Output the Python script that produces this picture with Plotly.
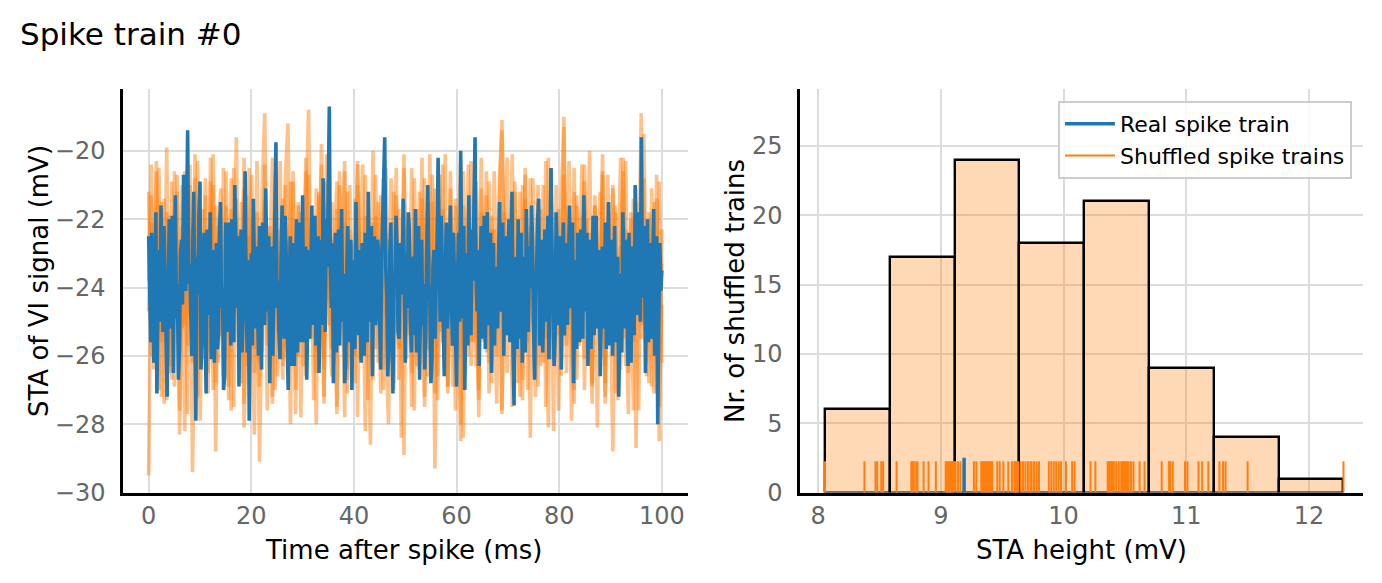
import numpy as np
import plotly.graph_objects as go

# ---------------- data ----------------
# STA of the real spike train (mV), evenly sampled from 0 to 100 ms
real_sta = [
    -22.5, -24.1, -25.6, -22.4, -23.1, -26.2, -24.8, -21.8, -27.1, -24.6,
    -22.9, -25.0, -21.6, -23.8, -25.3, -22.2, -23.7, -25.1, -27.2, -24.3,
    -22.0, -25.2, -24.4, -21.9, -26.5, -23.4, -21.3, -24.9, -23.9, -26.7,
    -25.8, -23.0, -22.6, -24.5, -20.7, -22.8, -24.1, -21.7, -19.4, -23.9,
    -23.3, -24.7, -26.0, -22.6, -21.2, -25.3, -27.9, -23.1, -24.2, -21.8,
    -20.9, -26.4, -25.1, -23.6, -22.4, -25.5, -27.1, -22.3, -23.6, -24.8,
    -21.8, -26.1, -24.9, -22.9, -26.2, -23.7, -22.7, -25.8, -25.4, -22.4,
    -21.5, -24.6, -24.0, -27.0, -26.6, -22.1, -23.2, -25.3, -22.1, -24.0,
    -25.7, -22.0, -23.4, -25.6, -21.0, -23.8, -24.6, -22.5, -26.9, -24.3,
    -22.3, -25.9, -24.8, -22.7, -20.6, -24.1, -25.9, -23.2, -27.9, -24.5,
    -23.0, -25.7, -21.4, -23.6, -25.2, -22.8, -24.1, -26.0, -22.2, -24.4,
    -26.4, -22.1, -23.5, -25.1, -21.1, -23.3, -24.7, -22.5, -26.8, -24.2,
    -22.8, -26.0, -24.3, -22.2, -19.75, -24.6, -23.8, -25.4, -26.1, -23.2,
    -21.6, -24.9, -25.5, -21.9, -23.1, -25.8, -27.0, -24.0, -22.5, -26.3,
    -24.5, -22.7, -26.3, -23.5, -22.0, -25.9, -23.9, -22.1, -25.6, -24.0,
    -21.3, -25.6, -24.2, -22.8, -26.7, -24.3, -22.9, -25.5, -23.7, -21.6,
    -25.1, -23.3, -21.9, -25.7, -24.4, -22.5, -26.5, -24.0, -22.6, -25.1,
    -20.8, -23.6, -25.3, -22.0, -23.4, -21.2, -18.7, -23.4, -24.6, -22.7,
    -26.8, -24.3, -22.4, -25.9, -24.0, -22.3, -25.7, -23.4, -21.7, -25.0,
    -23.6, -26.8, -26.2, -23.5, -22.2, -25.6, -24.9, -22.6, -27.0, -24.4,
    -23.2, -25.8, -21.5, -23.7, -25.4, -22.9, -24.1, -26.2, -22.7, -24.5,
    -26.0, -22.4, -23.3, -25.6, -21.2, -23.8, -25.0, -22.2, -26.6, -24.0,
    -22.5, -25.1, -24.7, -22.6, -23.0, -24.9, -26.4, -23.3, -21.9, -21.6,
    -19.6, -23.4, -24.3, -26.6, -25.8, -23.0, -22.1, -24.9, -27.1, -23.6,
    -24.0, -21.9, -22.8, -25.3, -25.5, -22.7, -23.5, -24.2, -21.4, -25.6,
    -26.2, -23.0, -24.6, -21.8, -22.3, -24.9, -25.9, -23.3, -23.1, -25.4,
    -21.7, -25.9, -24.8, -22.2, -26.7, -23.8, -22.6, -25.1, -23.9, -26.4,
    -25.3, -22.7, -21.0, -23.9, -24.4, -26.8, -26.1, -23.4, -22.9, -25.5,
    -24.2, -22.6, -20.2, -23.8, -25.0, -21.9, -23.3, -25.6, -26.6, -23.5,
    -22.1, -25.2, -24.5, -23.0, -21.6, -24.3, -25.7, -22.4, -23.7, -25.9,
    -26.9, -23.7, -22.4, -25.0, -20.0, -23.3, -24.9, -22.2, -27.0, -24.5,
    -23.0, -25.7, -21.3, -24.2, -25.4, -22.3, -23.8, -21.5, -19.6, -23.6,
    -24.7, -22.9, -26.3, -23.7, -22.2, -25.5, -23.6, -21.9, -25.8, -23.2,
    -21.8, -25.1, -24.1, -22.4, -26.5, -23.9, -22.7, -25.7, -23.4, -24.8,
    -25.2, -23.0, -21.5, -24.7, -24.6, -22.1, -26.0, -23.6, -22.5, -25.4,
    -23.9, -22.0, -25.6, -23.4, -21.2, -25.9, -27.45, -23.1, -24.3, -25.8,
    -22.0, -25.5, -24.8, -22.4, -26.2, -23.7, -23.1, -25.9, -21.7, -24.4,
    -25.3, -22.8, -24.0, -21.6, -22.6, -25.0, -26.7, -24.1, -23.5, -22.0,
    -21.4, -25.7, -24.5, -22.6, -25.9, -23.4, -22.3, -25.0, -23.8, -21.9,
    -26.1, -23.5, -20.5, -23.0, -24.2, -26.3, -25.5, -21.8, -22.8, -25.1,
    -24.9, -22.5, -26.4, -23.8, -22.1, -25.4, -23.6, -22.7, -25.1, -23.3,
    -21.6, -24.6, -24.4, -22.1, -26.8, -24.5, -23.2, -25.8, -22.4, -24.7,
    -25.6, -22.3, -23.7, -25.5, -21.3, -23.9, -24.7, -22.4, -26.3, -24.1,
    -22.6, -25.8, -23.9, -21.9, -25.4, -23.3, -21.9, -25.2, -24.1, -22.9,
    -26.6, -23.8, -22.8, -25.2, -24.3, -22.1, -25.8, -23.5, -21.5, -25.7,
    -23.4, -22.6, -26.0, -23.4, -22.2, -25.6, -24.6, -23.1, -27.2, -24.2,
    -23.6, -25.9, -21.8, -23.2, -25.2, -22.6, -24.0, -26.3, -22.4, -24.5,
    -26.2, -22.8, -23.1, -25.4, -21.0, -23.9, -24.8, -21.8, -22.6, -25.0,
    -19.6, -23.5, -24.3, -22.2, -26.5, -24.1, -22.0, -25.6, -23.7, -22.7,
    -25.5, -23.9, -21.7, -26.0, -24.9, -22.5, -28.0, -25.0, -22.7, -24.1,
    -23.5,
]

# STAs of a few shuffled spike trains (mV), evenly sampled from 0 to 100 ms
shuffled_sta_a = [
    -29.5, -22.1, -25.8, -20.6, -24.3, -27.2, -21.4, -23.9, -26.5, -20.9,
    -24.8, -22.6, -27.6, -21.0, -25.1, -23.3, -20.4, -26.2, -22.9, -24.6,
    -27.9, -21.7, -23.5, -25.9, -20.2, -24.1, -26.8, -22.3, -21.1, -25.4,
    -23.0, -27.3, -20.8, -24.7, -22.0, -26.0, -21.5, -28.1, -23.6, -20.5,
    -25.6, -22.4, -24.2, -26.9, -21.2, -18.9, -25.0, -23.1, -27.4, -21.8,
    -24.4, -20.3, -26.3, -22.7, -25.2, -20.9, -23.8, -27.0, -21.6, -24.9,
    -22.2, -26.6, -20.7, -25.5, -23.4, -28.0, -21.3, -24.0, -26.1, -20.1,
    -23.7, -25.8, -22.5, -27.5, -21.0, -24.5, -20.6, -26.4, -22.8, -25.1,
    -21.4, -27.8, -23.2, -20.4, -25.7, -22.1, -24.6, -26.7, -21.9, -23.5,
    -27.1, -20.8, -24.8, -22.6, -26.2, -21.2, -25.3, -23.0, -28.4, -20.5,
    -24.1, -22.4, -26.5, -21.7, -25.0, -23.6, -20.2, -27.2, -22.9, -24.7,
    -21.5, -29.3, -23.4, -20.7, -25.6, -22.2, -26.9, -21.1, -24.3, -27.6,
    -22.6, -20.3, -25.9, -23.8, -21.6, -26.3, -24.9, -20.9, -27.0, -22.4,
    -25.2, -21.3, -23.7, -26.8, -20.6, -24.4, -22.0, -27.7, -21.8, -25.4,
    -23.1, -20.1, -26.0, -22.5, -24.8, -27.3, -21.4, -25.6, -20.8, -23.9,
    -26.6, -22.2, -24.5, -21.0, -27.5, -23.3, -20.5, -25.8, -22.7, -24.0,
    -26.4, -19.0, -24.6, -22.8, -27.9, -21.2, -25.3, -23.5, -20.4, -26.1,
    -22.0, -24.9, -27.4, -21.6, -23.2, -25.7, -20.7, -26.8, -22.6, -24.2,
    -21.1, -27.1, -23.6, -20.2, -25.5, -22.3, -26.5, -21.8, -24.7, -23.0,
    -27.6, -20.9, -25.0, -22.8, -24.1, -26.9, -21.5, -23.8, -28.5, -22.3,
]
shuffled_sta_b = [
    -24.7, -21.3, -26.4, -22.8, -20.5, -25.6, -23.2, -27.3, -21.9, -24.0,
    -26.9, -20.7, -23.6, -25.2, -22.1, -27.7, -21.0, -29.4, -24.5, -20.3,
    -23.9, -26.1, -22.4, -24.8, -20.9, -27.0, -21.6, -25.5, -23.3, -26.6,
    -20.6, -24.2, -22.9, -27.5, -21.4, -25.0, -23.7, -20.2, -26.3, -22.5,
    -24.6, -28.3, -21.8, -23.4, -25.9, -20.4, -24.9, -22.2, -27.2, -21.1,
    -25.3, -23.0, -26.7, -20.8, -19.2, -24.3, -22.7, -26.0, -21.5, -27.8,
    -23.5, -20.6, -25.1, -22.0, -24.7, -26.5, -21.2, -23.8, -27.4, -20.9,
    -24.4, -22.6, -26.2, -21.7, -25.7, -23.1, -20.3, -27.1, -22.3, -24.8,
    -26.8, -21.0, -23.6, -25.4, -20.7, -24.1, -28.6, -22.1, -25.0, -21.5,
    -23.2, -26.4, -20.5, -24.6, -22.8, -27.0, -21.3, -25.8, -23.9, -20.1,
    -26.1, -22.4, -24.3, -27.6, -21.7, -25.2, -23.0, -20.8, -26.6, -22.9,
    -24.5, -21.1, -27.3, -23.5, -20.4, -25.9, -22.2, -24.0, -26.9, -21.6,
    -23.7, -28.0, -20.6, -25.0, -22.5, -24.8, -21.4, -26.3, -23.1, -20.2,
    -25.6, -22.7, -27.1, -21.9, -24.2, -26.0, -20.9, -19.1, -23.4, -25.3,
    -22.0, -27.5, -21.2, -24.6, -23.3, -26.7, -20.5, -25.1, -22.6, -24.9,
    -27.2, -21.5, -23.8, -26.2, -20.3, -24.4, -22.1, -28.2, -21.0, -25.4,
    -23.6, -20.7, -26.5, -22.4, -24.7, -27.0, -21.3, -25.7, -23.0, -20.4,
    -24.9, -22.8, -26.8, -21.6, -23.5, -25.9, -20.1, -27.4, -22.2, -24.3,
    -28.8, -21.8, -25.2, -23.2, -20.6, -26.3, -22.5, -24.1, -27.6, -21.1,
    -23.9, -25.5, -20.8, -26.6, -22.0, -24.5, -27.1, -21.4, -25.0, -23.3,
]
shuffled_sta_c = [
    -21.2, -26.0, -23.4, -20.3, -25.3, -22.7, -27.4, -21.8, -24.4, -26.7,
    -20.6, -23.1, -25.9, -22.2, -28.2, -21.0, -24.9, -23.6, -20.8, -26.4,
    -22.9, -25.1, -21.3, -27.1, -23.8, -20.1, -24.6, -26.2, -22.0, -25.6,
    -21.6, -23.9, -27.6, -20.5, -24.3, -22.4, -26.8, -21.1, -25.0, -23.2,
    -20.7, -26.5, -22.6, -29.1, -24.1, -21.4, -25.7, -23.0, -20.2, -27.0,
    -22.3, -24.7, -26.1, -21.0, -23.5, -25.4, -20.6, -27.7, -22.8, -24.0,
    -26.3, -21.7, -18.8, -24.8, -22.1, -25.8, -23.3, -20.4, -27.2, -21.5,
    -24.5, -26.6, -22.5, -20.9, -25.2, -23.7, -27.8, -21.2, -24.2, -22.7,
    -26.0, -20.3, -23.4, -25.5, -21.9, -27.3, -22.4, -24.6, -20.7, -26.2,
    -23.0, -21.3, -25.7, -28.0, -22.1, -24.4, -20.5, -26.7, -23.6, -21.6,
    -25.1, -22.8, -27.5, -20.8, -24.3, -26.4, -21.4, -23.2, -25.8, -20.1,
    -24.0, -27.1, -22.0, -25.3, -21.7, -23.8, -26.9, -20.6, -24.7, -22.5,
    -26.1, -21.1, -28.4, -23.5, -20.4, -25.6, -22.9, -24.2, -27.3, -21.8,
    -23.3, -25.9, -20.9, -26.5, -22.3, -24.5, -21.5, -27.6, -23.1, -20.2,
    -25.4, -22.6, -24.9, -26.8, -21.2, -23.7, -20.7, -27.0, -22.2, -25.0,
    -23.9, -21.0, -26.3, -22.8, -24.4, -28.1, -20.5, -25.5, -23.4, -21.7,
    -26.6, -22.1, -24.0, -20.3, -25.9, -27.4, -21.6, -23.6, -25.2, -20.9,
    -24.6, -22.4, -26.9, -21.3, -23.1, -25.7, -20.6, -27.2, -22.7, -24.8,
    -21.0, -25.3, -23.5, -26.4, -20.2, -24.1, -27.7, -22.0, -25.6, -21.5,
    -23.8, -18.9, -24.3, -26.2, -21.8, -23.0, -25.4, -20.7, -27.5, -24.5,
]
shuffled_sta_d = [
    -23.8, -20.4, -25.9, -22.1, -27.0, -21.5, -24.6, -19.9, -26.3, -22.7,
    -25.0, -21.2, -28.3, -23.4, -20.6, -25.7, -22.3, -24.9, -20.1, -27.2,
    -22.6, -24.3, -20.8, -26.5, -23.1, -21.0, -28.8, -22.2, -25.4, -20.5,
    -24.0, -26.9, -21.7, -23.6, -19.6, -25.2, -22.8, -27.4, -21.3, -24.5,
    -22.0, -25.8, -20.3, -26.2, -23.5, -21.6, -27.6, -22.4, -24.8, -20.7,
    -26.6, -23.0, -21.4, -25.5, -22.6, -28.0, -20.9, -24.2, -26.0, -21.8,
    -23.7, -20.2, -25.3, -22.9, -27.3, -21.1, -24.7, -19.8, -26.4, -22.5,
    -25.1, -21.5, -23.9, -27.7, -20.6, -24.4, -22.1, -26.7, -21.0, -25.6,
    -23.3, -20.4, -26.1, -22.7, -28.2, -21.9, -24.6, -20.0, -25.8, -23.2,
    -21.3, -27.0, -22.4, -25.0, -20.8, -26.8, -23.6, -21.7, -24.3, -28.9,
    -22.2, -25.4, -20.5, -24.8, -26.3, -21.2, -23.5, -27.5, -21.8, -25.9,
    -20.7, -23.9, -26.6, -22.0, -24.5, -20.1, -27.1, -22.8, -25.2, -21.4,
    -24.1, -28.5, -21.6, -23.3, -26.0, -20.3, -25.6, -22.5, -27.8, -21.1,
    -23.8, -20.6, -26.2, -22.3, -24.9, -27.4, -21.5, -19.4, -24.2, -26.5,
    -22.7, -25.3, -20.9, -23.7, -27.2, -21.0, -25.0, -22.4, -28.4, -20.8,
    -24.6, -26.9, -21.7, -23.1, -25.5, -20.2, -26.1, -22.6, -24.0, -27.6,
    -21.3, -19.3, -25.7, -22.9, -24.3, -20.5, -26.7, -23.4, -21.9, -27.0,
    -23.6, -20.0, -25.4, -22.1, -28.1, -21.2, -24.7, -26.3, -20.7, -23.0,
    -25.8, -21.6, -27.3, -22.8, -24.4, -20.3, -26.0, -23.7, -21.4, -28.7,
    -22.5, -25.1, -19.5, -24.2, -26.8, -21.1, -23.9, -27.1, -20.9, -26.2,
]

# STA heights (mV) of the 100 shuffled spike trains and of the real train
shuffled_heights = [
    8.057, 8.378, 8.468, 8.482, 8.515, 8.530,
    8.64, 8.76, 8.77, 8.78, 8.80, 8.81, 8.86, 8.90, 8.96, 9.04, 9.05, 9.06,
    9.07, 9.08, 9.09, 9.10, 9.11,
    9.12, 9.14, 9.16, 9.27, 9.29, 9.33, 9.34, 9.35, 9.36, 9.37, 9.38, 9.39,
    9.40, 9.41, 9.42, 9.46, 9.48, 9.51, 9.55, 9.58, 9.60, 9.61, 9.62, 9.63,
    9.65, 9.67, 9.69, 9.71, 9.73, 9.74, 9.76, 9.78, 9.80, 9.88, 9.90, 9.92,
    9.94, 9.96, 9.98, 10.02, 10.07, 10.09,
    10.22, 10.26, 10.36, 10.37, 10.38, 10.39, 10.40, 10.41, 10.43, 10.45,
    10.47, 10.48, 10.49, 10.50, 10.51, 10.52, 10.53, 10.55, 10.57, 10.62, 10.66,
    10.80, 10.86, 10.87, 10.89, 10.99, 11.01, 11.10, 11.13, 11.18,
    11.27, 11.30, 11.32, 11.50,
    12.281,
]
real_height = 9.19

n_bins = 8
rug_height = 2.25
real_rug_height = 2.5

left_x_ticks = [0, 20, 40, 60, 80, 100]
left_y_ticks = [-30, -28, -26, -24, -22, -20]
right_x_ticks = [8, 9, 10, 11, 12]
right_y_ticks = [0, 5, 10, 15, 20, 25]

# ---------------- styling ----------------
# the captured page comes out slightly squeezed vertically (~583/597),
# so the figure is laid out on a 597 px tall page; positions below are
# given in the 583 px tall picture's coordinates
W, H = 1382, 597
REF_H = 583
FONT = "DejaVu Sans"
BLUE = "#1f77b4"
ORANGE = "#ff7f0e"
GRID = "#dcdcdc"
TICKC = "#666666"


def px(xs):
    return xs / W


def py(ys):
    return 1 - ys / REF_H


fig = go.Figure()

for tr in [shuffled_sta_a, shuffled_sta_b, shuffled_sta_c, shuffled_sta_d]:
    fig.add_trace(go.Scatter(
        x=np.linspace(0, 100, len(tr)), y=tr, mode="lines",
        line=dict(color=ORANGE, width=3.6), opacity=0.48,
        showlegend=False, hoverinfo="skip", xaxis="x", yaxis="y"))

fig.add_trace(go.Scatter(
    x=np.linspace(0, 100, len(real_sta)), y=real_sta, mode="lines",
    line=dict(color=BLUE, width=3.6), name="Real spike train",
    showlegend=True, xaxis="x", yaxis="y"))

counts, edges = np.histogram(shuffled_heights, bins=n_bins)
centers = (edges[:-1] + edges[1:]) / 2
fig.add_trace(go.Bar(
    x=centers, y=counts, width=np.diff(edges),
    marker=dict(color="rgba(255,127,14,0.3)", line=dict(color="black", width=2.4)),
    showlegend=False, xaxis="x2", yaxis="y2"))

rx, ry = [], []
for v in shuffled_heights:
    rx += [v, v, None]
    ry += [0, rug_height, None]
fig.add_trace(go.Scatter(
    x=rx, y=ry, mode="lines", line=dict(color=ORANGE, width=2),
    name="Shuffled spike trains", showlegend=True, xaxis="x2", yaxis="y2"))
fig.add_trace(go.Scatter(
    x=[real_height, real_height], y=[0, real_rug_height], mode="lines",
    line=dict(color=BLUE, width=3.5), showlegend=False, xaxis="x2", yaxis="y2"))

axis_common = dict(
    showline=True, linecolor="black", linewidth=2.5, mirror=False,
    showgrid=True, gridcolor=GRID, gridwidth=1.5, zeroline=False,
    ticks="", tickfont=dict(family=FONT, size=24, color=TICKC),
)
ydom = [py(492.5), py(89)]

fig.update_layout(
    width=W, height=H,
    margin=dict(l=0, r=0, t=0, b=0),
    paper_bgcolor="white", plot_bgcolor="white",
    font=dict(family=FONT, color="black"),
    title=dict(text="Spike train #0", x=px(20), xanchor="left",
               y=py(33), yanchor="middle",
               font=dict(family=FONT, size=31, color="black")),
    xaxis=dict(domain=[px(123), px(687.5)], range=[-5, 105], anchor="y",
               tickvals=left_x_ticks, ticklabelstandoff=0, **axis_common),
    yaxis=dict(domain=ydom, range=[-30, -18.19], anchor="x",
               tickvals=left_y_ticks, ticklabelstandoff=10, **axis_common),
    xaxis2=dict(domain=[px(800), px(1363)], range=[7.853, 12.44], anchor="y2",
                tickvals=right_x_ticks, ticklabelstandoff=0, **axis_common),
    yaxis2=dict(domain=ydom, range=[0, 29.1], anchor="x2",
                tickvals=right_y_ticks, ticklabelstandoff=10, **axis_common),
    legend=dict(x=px(1352), y=py(101), xanchor="right", yanchor="top",
                bgcolor="rgba(255,255,255,0.85)", bordercolor="#cccccc",
                borderwidth=2, font=dict(family=FONT, size=22, color="black"),
                traceorder="normal", itemwidth=50),
    bargap=0,
    showlegend=True,
)

label_font = dict(family=FONT, size=26, color="black")
fig.add_annotation(text="Time after spike (ms)", x=px(404), y=py(550),
                   xref="paper", yref="paper", showarrow=False, font=label_font,
                   xanchor="center", yanchor="middle")
fig.add_annotation(text="STA height (mV)", x=px(1081), y=py(550),
                   xref="paper", yref="paper", showarrow=False, font=label_font,
                   xanchor="center", yanchor="middle")
fig.add_annotation(text="STA of VI signal (mV)", x=px(39), y=py(281),
                   xref="paper", yref="paper", showarrow=False, font=label_font,
                   textangle=-90, xanchor="center", yanchor="middle")
fig.add_annotation(text="Nr. of shuffled trains", x=px(735), y=py(291),
                   xref="paper", yref="paper", showarrow=False, font=label_font,
                   textangle=-90, xanchor="center", yanchor="middle")

# remove the default page margin so the figure fills the window exactly
fig.write_html(
    "out.html",
    config={"displayModeBar": False},
    post_script="document.body.style.margin='0';"
                "document.documentElement.style.overflow='hidden';",
)
